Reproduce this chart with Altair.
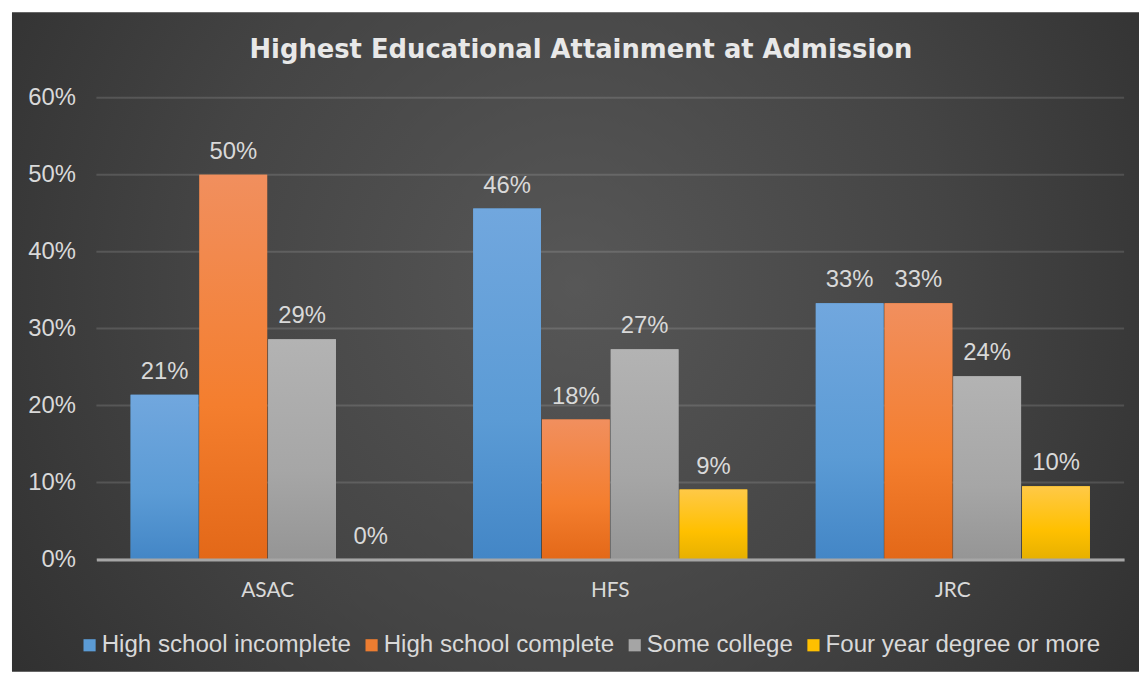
import altair as alt
import pandas as pd

agencies = ["ASAC", "HFS", "JRC"]
series = ["High school incomplete", "High school complete", "Some college", "Four year degree or more"]
asac_values = [21.4, 50.0, 28.6, 0.0]
hfs_values = [45.6, 18.2, 27.3, 9.1]
jrc_values = [33.3, 33.3, 23.8, 9.5]
y_ticks = [0, 10, 20, 30, 40, 50, 60]

solid_colors = ["#5b9bd5", "#ed7d31", "#a5a5a5", "#ffc000"]
grad_stops = [
    ("#71a7de", "#5b9bd5", "#4386c6"),
    ("#f18f5e", "#f47e2e", "#e36818"),
    ("#b3b3b3", "#a6a6a6", "#959595"),
    ("#ffc947", "#ffc000", "#e6b000"),
]

rows = []
for ag, vals in zip(agencies, [asac_values, hfs_values, jrc_values]):
    for s, v in zip(series, vals):
        rows.append({"agency": ag, "series": s, "value": v})
df = pd.DataFrame(rows)

W, H = 1035, 465
PL, PT, PR, PB = 89, 88, 15, 113
FONT = "Liberation Sans"
TXT = "#d9d9d9"

x_enc = alt.X("agency:N", sort=agencies,
              scale=alt.Scale(paddingInner=0.2, paddingOuter=0.1),
              axis=alt.Axis(title=None, labelAngle=0, ticks=False, domain=True,
                            domainColor="#a6a6a6", domainWidth=3, zindex=1,
                            labelFont="Lato", labelFontSize=21, labelColor=TXT,
                            labelPadding=20, grid=False))
xo_enc = alt.XOffset("series:N", sort=series,
                     scale=alt.Scale(domain=series, paddingInner=0.015))
y_axis = alt.Axis(title=None, values=y_ticks, labelExpr="datum.value + '%'",
                  ticks=False, domain=False, grid=False, zindex=1,
                  labelFont=FONT, labelFontSize=24, labelColor=TXT,
                  labelPadding=21)
y_scale = alt.Scale(domain=[0, 60], nice=False)
y_enc = alt.Y("value:Q", scale=y_scale, axis=y_axis)

# background panel
bg = alt.Chart(pd.DataFrame({"a": [0]})).mark_rect(
    fill=alt.Gradient(
        gradient="radial", x1=0.5, y1=0.45, r1=0, x2=0.5, y2=0.45, r2=0.75,
        stops=[alt.GradientStop(color="#575757", offset=0),
               alt.GradientStop(color="#444444", offset=0.45),
               alt.GradientStop(color="#262626", offset=1)]),
).encode(x=alt.value(-85), x2=alt.value(W + PR), y=alt.value(-86), y2=alt.value(H + PB))

grid = alt.Chart(pd.DataFrame({"tick": y_ticks})).mark_rule(
    color="#ffffff", opacity=0.13, strokeWidth=2
).encode(y=alt.Y("tick:Q", scale=y_scale, axis=y_axis), x=alt.value(0), x2=alt.value(W))

base = alt.Chart(df)

solid = base.mark_bar().encode(
    x=x_enc, xOffset=xo_enc, y=y_enc,
    color=alt.Color("series:N", sort=series,
                    scale=alt.Scale(domain=series, range=solid_colors),
                    legend=alt.Legend(title=None, orient="none", direction="horizontal",
                                      legendX=-19, legendY=539,
                                      symbolType="square", symbolSize=150,
                                      symbolStrokeWidth=0,
                                      labelFont=FONT, labelFontSize=24.3, labelColor=TXT,
                                      labelOffset=0, columnPadding=8, labelLimit=0)),
)

grads = []
for s, (c1, c2, c3) in zip(series, grad_stops):
    grads.append(
        base.transform_filter(alt.datum.series == s).mark_bar(
            fill=alt.Gradient(gradient="linear", x1=0, y1=0, x2=0, y2=1,
                              stops=[alt.GradientStop(color=c1, offset=0),
                                     alt.GradientStop(color=c2, offset=0.6),
                                     alt.GradientStop(color=c3, offset=1)])
        ).encode(x=x_enc, xOffset=xo_enc, y=y_enc)
    )

labels = base.transform_calculate(
    lab="round(datum.value) + '%'"
).mark_text(font=FONT, fontSize=24, color=TXT, baseline="alphabetic", dy=-16).encode(
    x=x_enc, xOffset=xo_enc, y=y_enc, text="lab:N")

title_mark = alt.Chart(pd.DataFrame({"t": ["Highest Educational Attainment at Admission"]})).mark_text(
    font="DejaVu Sans", fontSize=26, fontWeight="bold", color="#e8e8e8", baseline="alphabetic", align="center"
).encode(x=alt.value(585 - 8 - PL), y=alt.value(56 - 8 - PT), text="t:N")

chart = alt.layer(bg, grid, solid, *grads, labels, title_mark).properties(
    width=W, height=H,
    autosize=alt.AutoSizeParams(type="none"),
    padding={"left": PL, "top": PT, "right": PR, "bottom": PB},
    background="#ffffff",
).configure_view(stroke=None)

chart.save("out.html", embed_options={"renderer": "svg", "actions": False})
